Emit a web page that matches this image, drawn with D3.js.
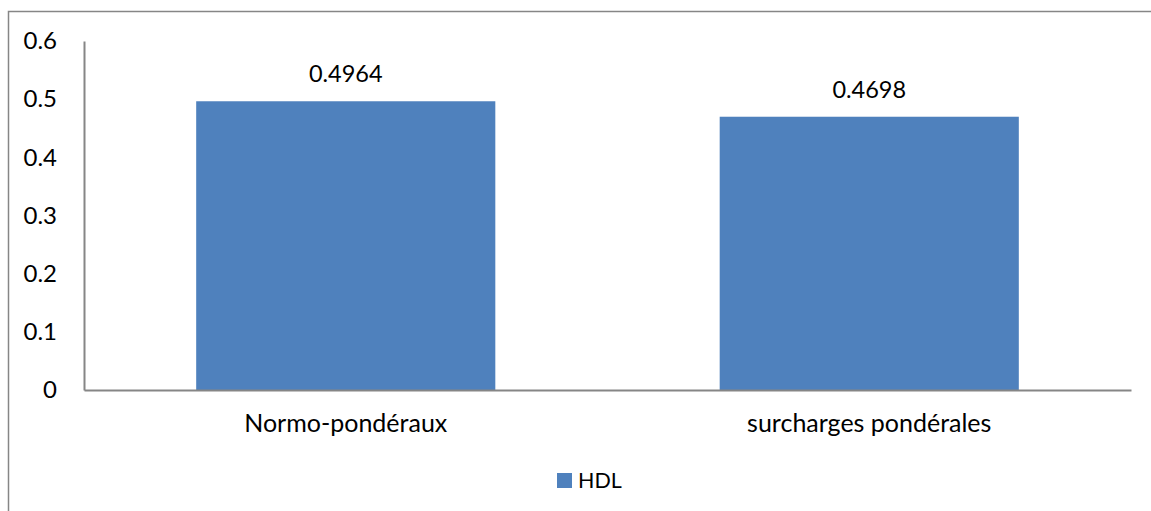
<!DOCTYPE html>
<html>
<head>
<meta charset="utf-8">
<script src="https://cdn.jsdelivr.net/npm/d3@7"></script>
<style>
  html, body { margin: 0; padding: 0; background: #fff; }
  svg { display: block; font-family: Lato, "Open Sans", sans-serif; }
</style>
</head>
<body>
<svg id="chart" width="1151" height="511"></svg>
<script>
// HDL means by weight group
const categories = ["Normo-pondéraux", "surcharges pondérales"];
const hdlValues = [0.4964, 0.4698];
const yTicks = [0, 0.1, 0.2, 0.3, 0.4, 0.5, 0.6];
const yTickLabels = ["0", "0.1", "0.2", "0.3", "0.4", "0.5", "0.6"];
const seriesName = "HDL";

const svg = d3.select("#chart");
const barColor = "#4F81BD";
const axisColor = "#868686";
const font = "Lato, 'Open Sans', sans-serif";

// outer chart frame (extends past the right and bottom edges)
svg.append("rect")
  .attr("x", 8.5).attr("y", 11.5)
  .attr("width", 1160).attr("height", 520)
  .attr("fill", "none").attr("stroke", axisColor).attr("stroke-width", 1.5);

const plot = { left: 84, right: 1131, top: 41, bottom: 390 };

const x = d3.scaleBand()
  .domain(categories)
  .range([plot.left, plot.right])
  .paddingInner(0.4286)
  .paddingOuter(0.2143);

const y = d3.scaleLinear().domain([0, 0.6]).range([plot.bottom, plot.top]);

// bars
svg.append("g").selectAll("rect")
  .data(categories)
  .join("rect")
  .attr("x", d => x(d))
  .attr("width", x.bandwidth())
  .attr("y", (d, i) => y(hdlValues[i]))
  .attr("height", (d, i) => y(0) - y(hdlValues[i]))
  .attr("fill", barColor);

// value labels
svg.append("g").selectAll("text")
  .data(categories)
  .join("text")
  .attr("x", d => x(d) + x.bandwidth() / 2)
  .attr("y", (d, i) => y(hdlValues[i]) - 19)
  .attr("text-anchor", "middle")
  .attr("font-size", 23.5)
  .attr("fill", "#000")
  .text((d, i) => hdlValues[i].toFixed(4));

// y axis
const yAxis = d3.axisLeft(y)
  .tickValues(yTicks)
  .tickFormat((d, i) => yTickLabels[i])
  .tickSize(0)
  .tickPadding(27);
const gy = svg.append("g")
  .attr("transform", `translate(${plot.left},0)`)
  .call(yAxis);
gy.select(".domain").attr("stroke", axisColor).attr("stroke-width", 2);
gy.selectAll("text").attr("font-size", 24).attr("fill", "#000")
  .attr("font-family", font);

// x axis
const xAxis = d3.axisBottom(x).tickSize(0);
const gx = svg.append("g")
  .attr("transform", `translate(0,${plot.bottom})`)
  .call(xAxis);
gx.select(".domain").attr("stroke", axisColor).attr("stroke-width", 2);
gx.selectAll("text").attr("font-size", 25).attr("fill", "#000")
  .attr("font-family", font)
  .attr("dy", null).attr("y", 42);

// legend
const legend = svg.append("g").attr("transform", "translate(557,473)");
legend.append("rect").attr("width", 15).attr("height", 15).attr("fill", barColor);
legend.append("text")
  .attr("x", 21).attr("y", 15)
  .attr("font-size", 21.5).attr("fill", "#000")
  .text(seriesName);
</script>
</body>
</html>
